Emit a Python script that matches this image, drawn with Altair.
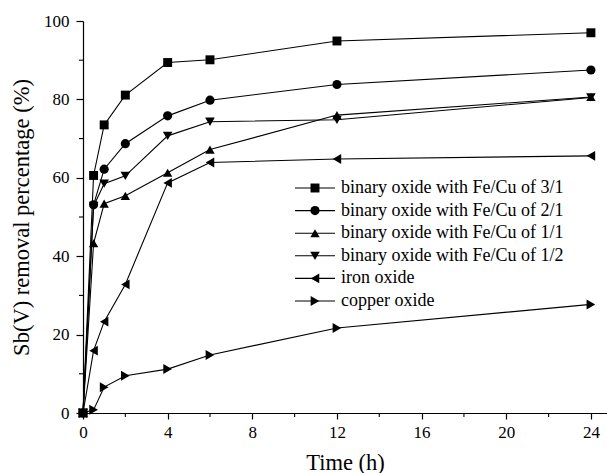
import altair as alt
import pandas as pd

time = [0, 0.5, 1, 2, 4, 6, 12, 24]
s31 = [0, 60.6, 73.5, 81.1, 89.4, 90.1, 94.9, 97.0]
s21 = [0, 53.1, 62.2, 68.7, 75.8, 79.8, 83.8, 87.5]
s11 = [0, 43.3, 53.4, 55.4, 61.3, 67.2, 76.0, 80.6]
s12 = [0, 52.8, 58.5, 60.5, 70.7, 74.3, 74.8, 80.5]
fe = [0, 15.9, 23.3, 32.8, 58.7, 63.9, 64.8, 65.6]
cu = [0, 0.8, 6.6, 9.5, 11.2, 14.8, 21.7, 27.7]

names = [
    "binary oxide with Fe/Cu of 3/1",
    "binary oxide with Fe/Cu of 2/1",
    "binary oxide with Fe/Cu of 1/1",
    "binary oxide with Fe/Cu of 1/2",
    "\u00a0iron oxide",
    "\u00a0copper oxide",
]
shapes = ["square", "circle", "triangle-up", "triangle-down", "triangle-left", "triangle-right"]
sizes = [80, 100, 140, 140, 140, 140]
series = [s31, s21, s11, s12, fe, cu]

x_major = [0, 4, 8, 12, 16, 20, 24]
x_minor = [2, 6, 10, 14, 18, 22]
y_major = [0, 20, 40, 60, 80, 100]
y_minor = [10, 30, 50, 70, 90]

rows = []
for n, vals in zip(names, series):
    for t, v in zip(time, vals):
        rows.append({"series": n, "t": t, "v": v})
df = pd.DataFrame(rows)
leg = pd.DataFrame({"series": names})

W, H = 524, 392
FONT = "Liberation Serif"
xsc = alt.Scale(domain=[0, 24.76], nice=False, zero=False)
ysc = alt.Scale(domain=[0, 100], nice=False)
shape_sc = alt.Scale(domain=names, range=shapes)
size_sc = alt.Scale(domain=names, range=sizes)

common_axis = dict(labelFont=FONT, titleFont=FONT, labelColor="black", titleColor="black",
                   domainColor="black", tickColor="black", domainWidth=1.2, tickWidth=1.2,
                   grid=False, titleFontWeight="normal", labelFlush=False)

lines = alt.Chart(df).mark_line(color="black", strokeWidth=1.1).encode(
    x=alt.X("t:Q", scale=xsc, axis=alt.Axis(
        values=x_major, title="Time (h)", tickSize=6, labelPadding=5,
        labelFontSize=17, titleFontSize=22.5,
        titleBaseline="middle", titleY=49, **common_axis)),
    y=alt.Y("v:Q", scale=ysc, axis=alt.Axis(
        values=y_major, title="Sb(V) removal percentage (%)", tickSize=7,
        labelPadding=7, labelFontSize=17, titleFontSize=22.5,
        titleBaseline="middle", titleX=-62, **common_axis)),
    detail="series:N",
)

points = alt.Chart(df).mark_point(filled=True, color="black", opacity=1).encode(
    x=alt.X("t:Q", scale=xsc, axis=None),
    y=alt.Y("v:Q", scale=ysc, axis=None),
    shape=alt.Shape("series:N", scale=shape_sc, legend=None),
    size=alt.Size("series:N", scale=size_sc, legend=None),
)

xminor = alt.Chart(pd.DataFrame({"m": x_minor})).mark_rule(color="black", strokeWidth=1.1).encode(
    x=alt.X("m:Q", scale=xsc, axis=None),
    y=alt.value(H), y2=alt.value(H + 4),
)
yminor = alt.Chart(pd.DataFrame({"m": y_minor})).mark_rule(color="black", strokeWidth=1.1).encode(
    y=alt.Y("m:Q", scale=ysc, axis=None),
    x=alt.value(0), x2=alt.value(-4),
)

legy = alt.Y("series:N", scale=alt.Scale(domain=names, range=[167, 280], type="point", padding=0), axis=None)
leg_rule = alt.Chart(leg).mark_rule(color="black", strokeWidth=1.1).encode(
    y=legy, x=alt.value(212), x2=alt.value(252))
leg_pt = alt.Chart(leg).mark_point(filled=True, color="black", opacity=1).encode(
    y=legy, x=alt.value(232),
    shape=alt.Shape("series:N", scale=shape_sc, legend=None),
    size=alt.Size("series:N", scale=size_sc, legend=None),
)
leg_txt = alt.Chart(leg).mark_text(align="left", baseline="middle", font=FONT,
                                   fontSize=18, color="black").encode(
    y=legy, x=alt.value(258), text="series:N")

chart = alt.layer(lines, points, xminor, yminor, leg_rule, leg_pt, leg_txt).resolve_scale(
    x="independent", y="independent", shape="independent", size="independent"
).properties(
    width=W, height=H, autosize="none", background="white",
    padding={"left": 83, "top": 21, "right": 0, "bottom": 60},
).configure(font=FONT).configure_axis(labelFont=FONT, titleFont=FONT).configure_view(stroke=None)

chart.save("out.html", embed_options={"renderer": "svg", "actions": False})
